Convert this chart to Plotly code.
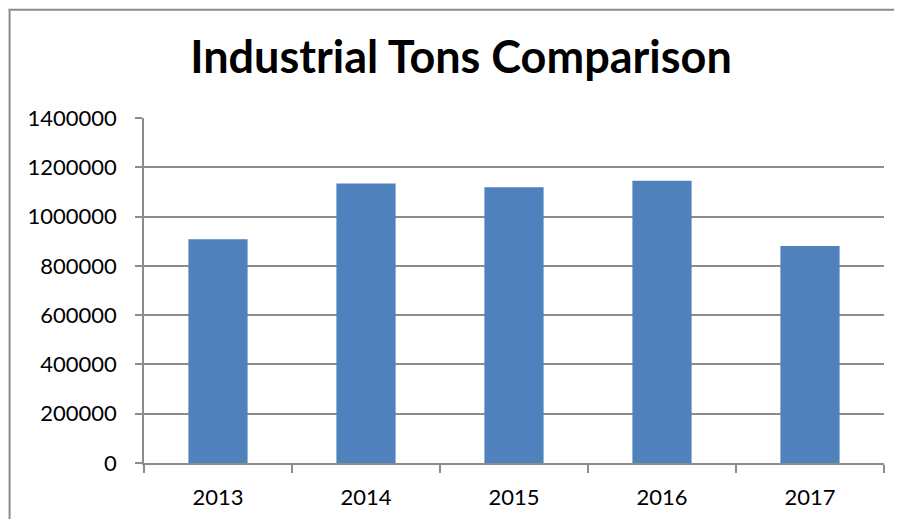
import plotly.graph_objects as go

years = ["2013", "2014", "2015", "2016", "2017"]
tons = [907500, 1134700, 1118500, 1145200, 880300]
y_ticks = [0, 200000, 400000, 600000, 800000, 1000000, 1200000, 1400000]
title_text = "Industrial Tons Comparison"

# page has an 8px body margin, so the figure is sized to fit inside the 902x527 window
W, H = 886, 511
L, R, T, B = 135.5, 10, 109.5, 56
pw = W - L - R
ph = H - T - B

fig = go.Figure()
fig.add_trace(go.Bar(x=years, y=tons, marker=dict(color="#4F81BD", line=dict(width=0)),
                     width=0.4))

grid = "#8C8C8C"
fig.update_layout(
    width=W, height=H,
    margin=dict(l=L, r=R, t=T, b=B, pad=0),
    paper_bgcolor="white", plot_bgcolor="white",
    font=dict(family="Lato", size=22, color="#000000"),
    title=dict(text="<b>" + title_text + "</b>", x=453 / W, xanchor="center",
               y=1 - 49.5 / H, yanchor="middle", yref="container", xref="container",
               font=dict(family="Lato", size=45, color="#000000")),
    showlegend=False,
    bargap=0.6,
)
fig.update_xaxes(
    type="category", showgrid=False, showline=True, linecolor=grid, linewidth=1.5,
    ticks="outside", tickson="boundaries", ticklen=8, tickcolor=grid, tickwidth=1.5,
    ticklabelstandoff=14, range=[-0.5, 4.5],
)
fig.update_yaxes(
    range=[0, 1400000], tickvals=y_ticks, ticktext=[str(v) for v in y_ticks],
    showgrid=True, gridcolor=grid, gridwidth=1.5, zeroline=False,
    showline=True, linecolor=grid, linewidth=1.5,
    ticks="outside", ticklen=7, tickcolor=grid, tickwidth=1.5,
    ticklabelstandoff=14,
)
# outer chart border (top and left edges visible)
ytop = (H - 1 - B) / ph
fig.add_shape(type="line", xref="paper", yref="paper",
              x0=(0 - L) / pw, x1=(W - L) / pw, y0=ytop, y1=ytop,
              line=dict(color="#8C8C8C", width=2))
fig.add_shape(type="line", xref="paper", yref="paper",
              x0=(1 - L) / pw, x1=(1 - L) / pw, y0=ytop, y1=(0 - B) / ph,
              line=dict(color="#8C8C8C", width=2))

fig.write_html("out.html")
